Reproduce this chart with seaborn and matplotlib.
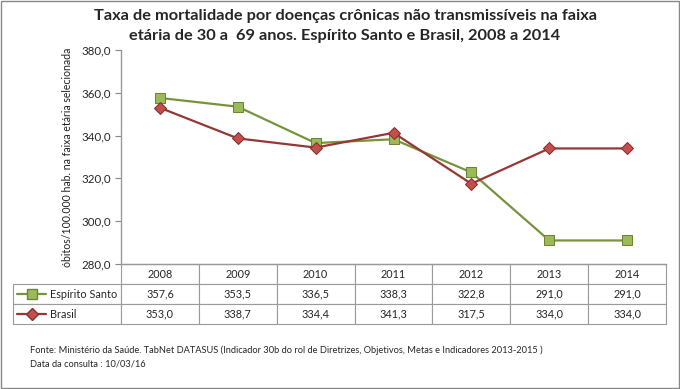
import matplotlib
matplotlib.use("Agg")
import matplotlib.pyplot as plt
import seaborn as sns
import pandas as pd
from matplotlib.patches import Rectangle
from matplotlib.ticker import FuncFormatter

# dados
anos = ["2008", "2009", "2010", "2011", "2012", "2013", "2014"]
espirito_santo = [357.6, 353.5, 336.5, 338.3, 322.8, 291.0, 291.0]
brasil = [353.0, 338.7, 334.4, 341.3, 317.5, 334.0, 334.0]
series = ["Espírito Santo", "Brasil"]

titulo = ("Taxa de mortalidade por doenças crônicas não transmissíveis na faixa\n"
          "etária de 30 a  69 anos. Espírito Santo e Brasil, 2008 a 2014")
ylabel = "óbitos/100.000 hab. na faixa etária selecionada"
fonte = ("Fonte: Ministério da Saúde. TabNet DATASUS (Indicador 30b do rol de Diretrizes, "
         "Objetivos, Metas e Indicadores 2013-2015 )")
data_consulta = "Data da consulta : 10/03/16"

estilos = {
    "Espírito Santo": dict(color="#77933C", marker="s", markersize=7,
                           markerfacecolor="#9BBB59", markeredgecolor="#6B8535"),
    "Brasil": dict(color="#953735", marker="D", markersize=6,
                   markerfacecolor="#C0504D", markeredgecolor="#8B2D2B"),
}

df = pd.DataFrame({
    "pos": list(range(len(anos))) * 2,
    "valor": espirito_santo + brasil,
    "serie": [series[0]] * len(anos) + [series[1]] * len(anos),
})

sns.set_style("white")
plt.rcParams["font.family"] = ["Lato", "DejaVu Sans"]

fig = plt.figure(figsize=(6.8, 3.89), dpi=100)
ax = fig.add_axes([121 / 680, 1 - 264 / 389, 545 / 680, 214 / 389])

for s in series:
    sub = df[df["serie"] == s]
    sns.lineplot(data=sub, x="pos", y="valor", ax=ax, linewidth=1.6,
                 legend=False, **estilos[s])

ax.set_xlim(-0.5, len(anos) - 0.5)
ax.set_ylim(280, 380)
ax.set_yticks([280, 300, 320, 340, 360, 380])
ax.yaxis.set_major_formatter(FuncFormatter(lambda v, p: f"{v:.1f}".replace(".", ",")))
ax.set_xticks([])
ax.set_xlabel("")
ax.set_ylabel(ylabel, fontsize=7.6, labelpad=6, color="#222222")
ax.tick_params(axis="y", labelsize=8.3, length=4, direction="out", color="#888888",
               left=True, pad=3)
for side in ["top", "right"]:
    ax.spines[side].set_visible(False)
for side in ["left", "bottom"]:
    ax.spines[side].set_color("#999999")
    ax.spines[side].set_linewidth(1)

# tabela de dados
cell_text = [[""] + [f"{v:.1f}".replace(".", ",") for v in vals]
             for vals in [espirito_santo, brasil]]
col_w = [108 / 653] + [545 / 653 / len(anos)] * len(anos)
tab = ax.table(cellText=cell_text, colLabels=[""] + anos, colWidths=col_w,
               cellLoc="center", bbox=[-108 / 545, -60 / 214, 653 / 545, 60 / 214])
tab.auto_set_font_size(False)
tab.set_fontsize(7.8)
for (r, c), cell in tab.get_celld().items():
    cell.set_edgecolor("#9A9A9A")
    cell.set_linewidth(0.8)
    if r == 0 and c == 0:
        cell.visible_edges = ""

# amostras da legenda dentro da tabela
for i, s in enumerate(series):
    yc = -(20 + 10 + 20 * i) / 214
    x0, x1 = -104 / 545, -75 / 545
    st = estilos[s]
    ax.plot([x0, x1], [yc, yc], transform=ax.transAxes, clip_on=False,
            color=st["color"], linewidth=1.6)
    ax.plot([(x0 + x1) / 2], [yc], transform=ax.transAxes, clip_on=False,
            marker=st["marker"], markersize=st["markersize"],
            markerfacecolor=st["markerfacecolor"], markeredgecolor=st["markeredgecolor"],
            linestyle="none")
    ax.text(-71 / 545, yc, s, transform=ax.transAxes, ha="left", va="center",
            fontsize=7.8)

fig.text(345 / 680, 1 - 26 / 389, titulo, ha="center", va="center", fontsize=11.8,
         fontweight="bold", linespacing=1.6)
fig.text(30 / 680, 1 - 350 / 389, fonte, ha="left", va="center", fontsize=6.7)
fig.text(30 / 680, 1 - 364 / 389, data_consulta, ha="left", va="center", fontsize=6.7)

fig.patches.append(Rectangle((0.001, 0.002), 0.997, 0.996, transform=fig.transFigure,
                             fill=False, edgecolor="#888888", linewidth=1))

plt.savefig("out.png", dpi=100)
